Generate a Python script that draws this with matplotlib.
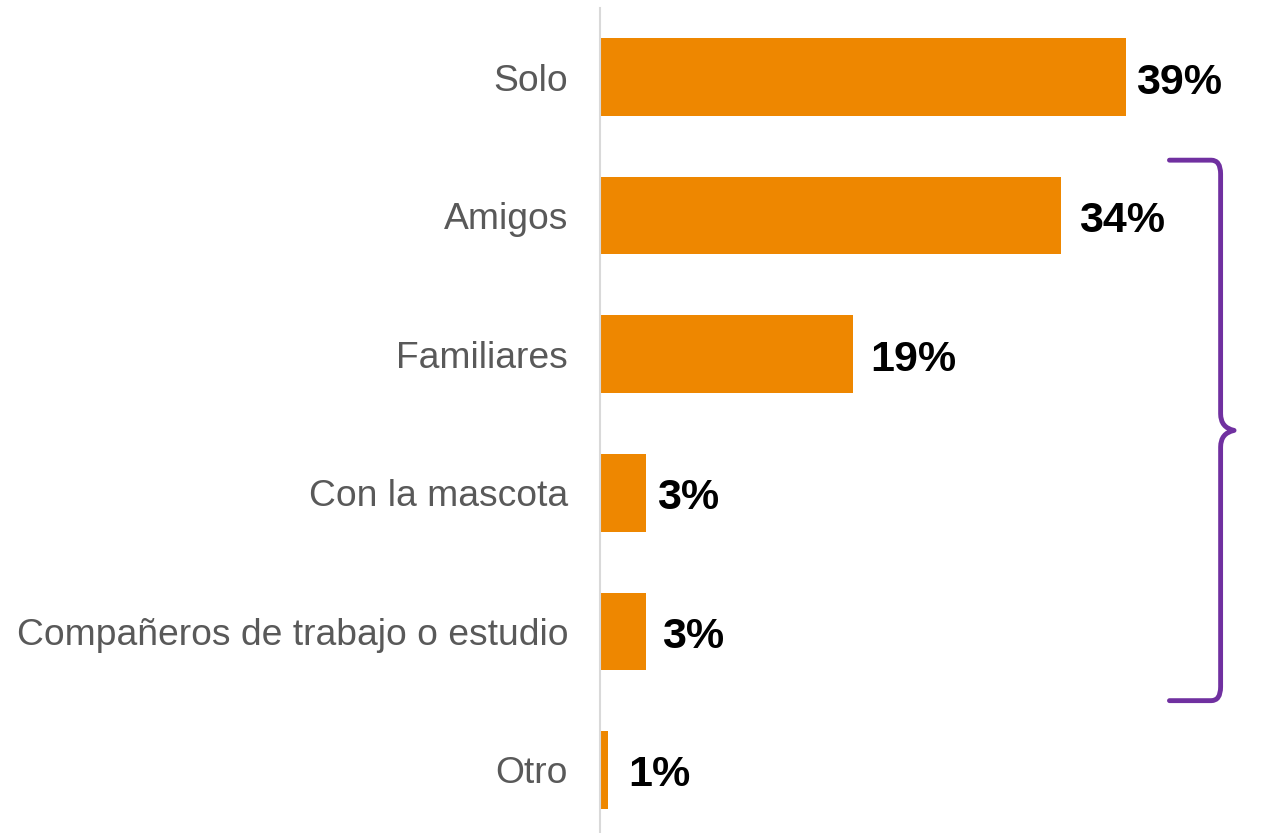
import matplotlib.pyplot as plt
from matplotlib.path import Path
from matplotlib.patches import PathPatch

plt.rcParams['font.family'] = ['Liberation Sans', 'DejaVu Sans']

categories = ['Solo', 'Amigos', 'Familiares', 'Con la mascota',
              'Compañeros de trabajo o estudio', 'Otro']
values = [39.05, 34.25, 18.8, 3.4, 3.4, 0.6]
labels = ['39%', '34%', '19%', '3%', '3%', '1%']

bar_color = '#EE8700'
brace_color = '#7030A0'

fig = plt.figure(figsize=(12.61, 8.33), dpi=100)
ax = fig.add_axes([600 / 1261, 0, 661 / 1261, 825 / 833])

ypos = list(range(len(categories)))
ax.barh(ypos, values, height=0.56, color=bar_color)

offsets = [0.75, 1.3, 1.25, 0.85, 1.2, 1.5]
for y, v, lab, off in zip(ypos, values, labels, offsets):
    ax.text(v + off, y + 0.04, lab, va='center', ha='left',
            fontsize=31, fontweight='bold', color='black')

ax.set_xlim(0, 49.1)
ax.set_ylim(5.455, -0.498)
ax.set_yticks(ypos)
ax.set_yticklabels(categories, fontsize=26.8, color='#595959')
ax.tick_params(axis='y', length=0, pad=23)
ax.set_xticks([])
for s in ['top', 'right', 'bottom']:
    ax.spines[s].set_visible(False)
ax.spines['left'].set_color('#D9D9D9')
ax.spines['left'].set_linewidth(1.5)

# curly brace grouping Amigos .. Compañeros
x0, xv, xt = 42.3, 46.1, 47.1
y0, ym, y1 = 0.6, 2.55, 4.5
verts = [
    (x0, y0), (xv - 0.7, y0), (xv, y0), (xv, y0 + 0.1),
    (xv, ym - 0.12), (xv, ym - 0.02), (xt, ym), (xv, ym + 0.02), (xv, ym + 0.12),
    (xv, y1 - 0.1), (xv, y1), (xv - 0.7, y1), (x0, y1),
]
codes = [
    Path.MOVETO, Path.LINETO, Path.CURVE3, Path.CURVE3,
    Path.LINETO, Path.CURVE3, Path.CURVE3, Path.CURVE3, Path.CURVE3,
    Path.LINETO, Path.CURVE3, Path.CURVE3, Path.LINETO,
]
brace = PathPatch(Path(verts, codes), facecolor='none', edgecolor=brace_color,
                  linewidth=3.5, clip_on=False, capstyle='round', joinstyle='round')
ax.add_patch(brace)

fig.savefig('out.png', dpi=100)
